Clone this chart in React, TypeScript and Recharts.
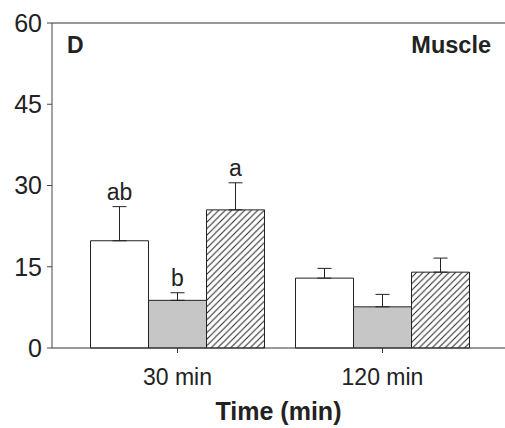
import { Bar, BarChart, ErrorBar, LabelList, ReferenceLine, XAxis, YAxis } from "recharts"

const times = ["30 min", "120 min"]
const controlMean = [19.8, 12.9]
const controlSem = [6.3, 1.8]
const grayMean = [8.8, 7.6]
const graySem = [1.4, 2.3]
const hatchMean = [25.5, 14.0]
const hatchSem = [5.0, 2.6]
const controlLetters = ["ab", ""]
const grayLetters = ["b", ""]
const hatchLetters = ["a", ""]
const yTicks = [0, 15, 30, 45, 60]

const data = times.map((time, i) => ({
  time,
  control: controlMean[i],
  controlErr: [0, controlSem[i]],
  gray: grayMean[i],
  grayErr: [0, graySem[i]],
  hatch: hatchMean[i],
  hatchErr: [0, hatchSem[i]],
}))

const font = "Arial, 'Liberation Sans', Helvetica, sans-serif"

function letterLabel(letters: string[], sems: number[]) {
  return (props: any) => {
    const { x, y, width, height, value, index } = props
    const letter = letters[index]
    if (!letter) return null
    const perUnit = Number(height) / Number(value)
    const top = Number(y) - sems[index] * perUnit
    return (
      <text
        x={Number(x) + Number(width) / 2}
        y={top - 6.5}
        textAnchor="middle"
        fontSize={23}
        fontFamily={font}
        fill="#222"
      >
        {letter}
      </text>
    )
  }
}

export default function App() {
  return (
    <div style={{ position: "fixed", left: 0, top: 0, background: "#fff" }}>
      <BarChart
        width={505}
        height={428}
        data={data}
        margin={{ top: 23, right: 0, bottom: 0, left: 0 }}
        barCategoryGap={15.5}
        barGap={0}
      >
        <defs>
          <pattern id="hatch" patternUnits="userSpaceOnUse" width={6.5} height={6.5}>
            <path d="M0,6.5 L6.5,0 M-1.625,1.625 L1.625,-1.625 M4.875,8.125 L8.125,4.875" stroke="#222" strokeWidth={1} />
          </pattern>
        </defs>
        <XAxis
          dataKey="time"
          height={80}
          padding={{ left: 23, right: 20 }}
          tickSize={5}
          tickMargin={16}
          stroke="#333"
          tick={{ fill: "#222", fontSize: 23, fontFamily: font }}
          label={{
            value: "Time (min)",
            position: "insideBottom",
            offset: 8,
            fill: "#222",
            fontSize: 25,
            fontWeight: "bold",
            fontFamily: font,
          }}
        />
        <YAxis
          domain={[0, 60]}
          ticks={yTicks}
          width={52}
          tickSize={5}
          tickMargin={5}
          stroke="#444"
          tick={{ fill: "#222", fontSize: 25, fontFamily: font }}
        />
        <ReferenceLine y={60} stroke="#333" strokeWidth={1} />
        <Bar dataKey="control" fill="#fff" stroke="#222" strokeWidth={1} isAnimationActive={false}>
          <ErrorBar dataKey="controlErr" width={7} stroke="#222" strokeWidth={1} />
          <LabelList dataKey="control" content={letterLabel(controlLetters, controlSem)} />
        </Bar>
        <Bar dataKey="gray" fill="#c6c6c6" stroke="#222" strokeWidth={1} isAnimationActive={false}>
          <ErrorBar dataKey="grayErr" width={7} stroke="#222" strokeWidth={1} />
          <LabelList dataKey="gray" content={letterLabel(grayLetters, graySem)} />
        </Bar>
        <Bar dataKey="hatch" fill="url(#hatch)" stroke="#222" strokeWidth={1} isAnimationActive={false}>
          <ErrorBar dataKey="hatchErr" width={7} stroke="#222" strokeWidth={1} />
          <LabelList dataKey="hatch" content={letterLabel(hatchLetters, hatchSem)} />
        </Bar>
        <text x={67} y={53} fontSize={23} fontWeight="bold" fontFamily={font} fill="#222">
          D
        </text>
        <text x={491} y={53} textAnchor="end" fontSize={23.5} fontWeight="bold" fontFamily={font} fill="#222">
          Muscle
        </text>
      </BarChart>
    </div>
  )
}
